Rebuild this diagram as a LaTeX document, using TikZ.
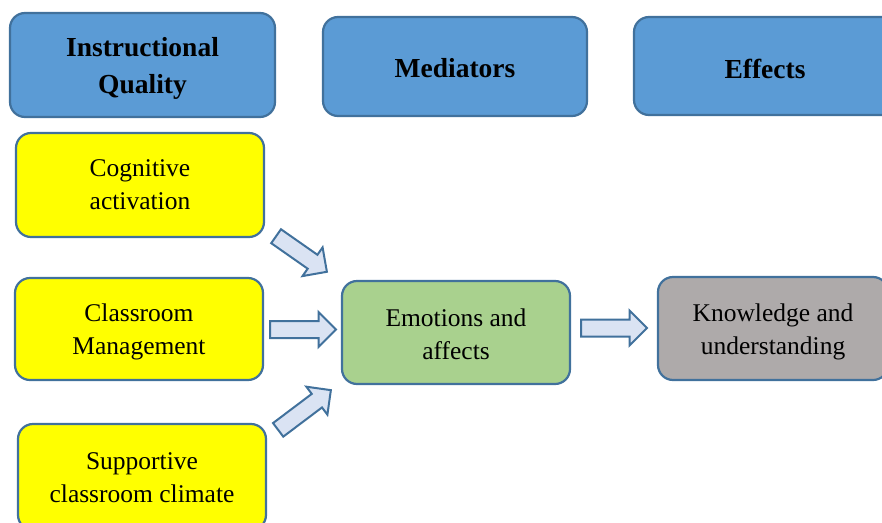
\documentclass[tikz,border=0pt]{standalone}
\usepackage{fontspec}
\setmainfont{Liberation Serif}
\usetikzlibrary{calc}
\definecolor{hdr}{HTML}{5B9BD5}
\definecolor{edge}{HTML}{41719C}
\definecolor{yel}{HTML}{FFFF00}
\definecolor{grn}{HTML}{A9D18E}
\definecolor{gry}{HTML}{AEAAAA}
\definecolor{arr}{HTML}{DAE3F3}
\newcommand{\blockarrow}[4]{% center, angle, length, name
  \begin{scope}[shift={#1}, rotate=#2]
    \draw[barrow] (-#3/2,-8.5) -- (#3/2-17.5,-8.5) -- (#3/2-17.5,-17.5) -- (#3/2,0)
      -- (#3/2-17.5,17.5) -- (#3/2-17.5,8.5) -- (-#3/2,8.5) -- cycle;
    \coordinate (#4) at (0,0);
  \end{scope}}
\begin{document}
\begin{tikzpicture}[x=1pt,y=-1pt,
  box/.style={draw=edge, line width=2.2pt, rounded corners=15pt, inner sep=0pt},
  hbox/.style={box, fill=hdr},
  htext/.style={align=center, inner sep=0pt, font=\fontsize{27.5}{37}\selectfont\bfseries},
  itext/.style={align=center, inner sep=0pt, font=\fontsize{25.5}{33}\selectfont},
  barrow/.style={draw=edge, fill=arr, line width=2pt, line join=miter}
]
\useasboundingbox (0,0) rectangle (882,522);
\clip (0,0) rectangle (882,522);
\node[hbox, minimum width=265pt, minimum height=104pt] (iq) at (142.5,65) {};
\node[htext] (iqt) at ($(iq.center)+(0,3)$) {Instructional\\Quality};
\node[hbox, minimum width=264pt, minimum height=99pt] (med) at (455,66.5) {};
\node[htext] (medt) at ($(med.center)+(0,2)$) {Mediators};
\node[hbox, minimum width=262pt, minimum height=98pt] (eff) at (765,66) {};
\node[htext] (efft) at ($(eff.center)+(0,3)$) {Effects};
\node[box, fill=yel, minimum width=248pt, minimum height=104pt] (ca) at (140,185) {};
\node[itext] (cat) at (ca.center) {Cognitive\\activation};
\node[box, fill=yel, minimum width=248pt, minimum height=102pt] (cm) at (139,329) {};
\node[itext] (cmt) at ($(cm.center)+(0,3)$) {Classroom\\Management};
\node[box, fill=yel, minimum width=248pt, minimum height=106pt] (sc) at (142,477) {};
\node[itext] (sct) at ($(sc.center)+(0,0.5)$) {Supportive\\classroom climate};
\node[box, fill=grn, minimum width=228pt, minimum height=103pt] (em) at (456,332.5) {};
\node[itext] (emt) at ($(em.center)+(0,2)$) {Emotions and\\affects};
\node[box, fill=gry, minimum width=230pt, minimum height=103pt] (kn) at (773,328.5) {};
\node[itext] (knt) at ($(kn.center)+(0,3)$) {Knowledge and\\understanding};
\blockarrow{(301.5,254)}{-35}{62}{a1}
\blockarrow{(303,329.5)}{0}{66}{a2}
\blockarrow{(304.5,410)}{37}{66}{a3}
\blockarrow{(614,328)}{0}{66}{a4}
\end{tikzpicture}
\end{document}
